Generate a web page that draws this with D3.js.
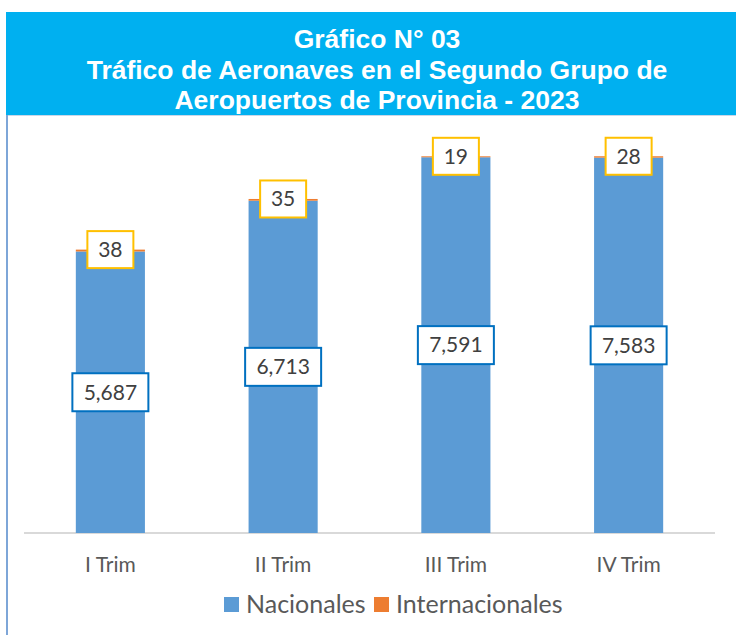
<!DOCTYPE html>
<html><head><meta charset="utf-8">
<script src="https://cdn.jsdelivr.net/npm/d3@7"></script>
<style>body{margin:0;background:#fff}svg{display:block}</style>
</head><body>
<svg id="c" width="736" height="635"></svg>
<script>
const categories = ["I Trim", "II Trim", "III Trim", "IV Trim"];
const nacionales = [5687, 6713, 7591, 7583];
const internacionales = [38, 35, 19, 28];
const seriesNames = ["Nacionales", "Internacionales"];
const titleLines = ["Gráfico N° 03", "Tráfico de Aeronaves en el Segundo Grupo de", "Aeropuertos de Provincia - 2023"];

const svg = d3.select("#c");
const fmt = d3.format(",");
const colors = {Nacionales: "#5B9BD5", Internacionales: "#ED7D31"};
const bodyFont = "Lato, 'Open Sans', sans-serif";

// banner
svg.append("rect").attr("x", 6).attr("y", 12).attr("width", 730).attr("height", 103).attr("fill", "#00B0F0");
svg.append("line").attr("x1", 6).attr("x2", 736).attr("y1", 115.5).attr("y2", 115.5).attr("stroke", "#c9d7e8").attr("stroke-width", 1);
svg.append("line").attr("x1", 7).attr("x2", 7).attr("y1", 115).attr("y2", 635).attr("stroke", "#7EA6D8").attr("stroke-width", 2);
svg.selectAll("text.title").data(titleLines).join("text").attr("class", "title")
  .attr("x", 377).attr("y", (d, i) => 48 + i * 30.5)
  .attr("text-anchor", "middle").attr("fill", "#fff")
  .style("font-family", "'Liberation Sans', Arial, sans-serif").style("font-weight", "bold").style("font-size", "26.5px")
  .text(d => d);

const x = d3.scaleBand().domain(categories).range([24, 715]).paddingInner(0.6).paddingOuter(0.3);
const y = d3.scaleLinear().domain([0, 8000]).range([533, 137]);

const data = categories.map((c, i) => ({c, n: nacionales[i], t: internacionales[i]}));

// axis
const xAxis = svg.append("g").attr("transform", "translate(0,533)").call(d3.axisBottom(x).tickSize(0));
xAxis.select(".domain").attr("stroke", "#d9d9d9").attr("stroke-width", 2).attr("d", "M24,0H715");
xAxis.selectAll("text").attr("dy", null).attr("y", 39).attr("fill", "#595959")
  .style("font-family", bodyFont).style("font-size", "21px");

// bars
svg.selectAll("rect.nac").data(data).join("rect").attr("class", "nac")
  .attr("x", d => x(d.c)).attr("width", x.bandwidth())
  .attr("y", d => y(d.n)).attr("height", d => y(0) - y(d.n)).attr("fill", colors.Nacionales);
svg.selectAll("rect.int").data(data).join("rect").attr("class", "int")
  .attr("x", d => x(d.c)).attr("width", x.bandwidth())
  .attr("y", d => y(d.n + d.t)).attr("height", d => y(d.n) - y(d.n + d.t)).attr("fill", colors.Internacionales);

// labels nacionales
const nl = svg.selectAll("g.nl").data(data).join("g").attr("class", "nl")
  .attr("transform", d => `translate(${x(d.c) + x.bandwidth() / 2},${(y(d.n) + y(0)) / 2})`);
nl.append("rect").attr("x", -38).attr("y", -19).attr("width", 76).attr("height", 38)
  .attr("fill", "#fff").attr("stroke", "#0070C0").attr("stroke-width", 2);
nl.append("text").attr("text-anchor", "middle").attr("dy", "0.35em").attr("fill", "#404040")
  .style("font-family", bodyFont).style("font-size", "21px").text(d => fmt(d.n));

// labels internacionales
const il = svg.selectAll("g.il").data(data).join("g").attr("class", "il")
  .attr("transform", d => `translate(${x(d.c) + x.bandwidth() / 2},${y(d.n + d.t)})`);
il.append("rect").attr("x", -23).attr("y", -18.5).attr("width", 46).attr("height", 37)
  .attr("fill", "#fff").attr("stroke", "#FFC000").attr("stroke-width", 2);
il.append("text").attr("text-anchor", "middle").attr("dy", "0.35em").attr("fill", "#404040")
  .style("font-family", bodyFont).style("font-size", "21px").text(d => fmt(d.t));

// legend
const legX = [224, 374];
const lg = svg.selectAll("g.leg").data(seriesNames).join("g").attr("class", "leg")
  .attr("transform", (d, i) => `translate(${legX[i]},597)`);
lg.append("rect").attr("width", 15).attr("height", 15).attr("fill", d => colors[d]);
lg.append("text").attr("x", 22).attr("y", 16).attr("fill", "#595959")
  .style("font-family", bodyFont).style("font-size", "25px").text(d => d);
</script>
</body></html>
